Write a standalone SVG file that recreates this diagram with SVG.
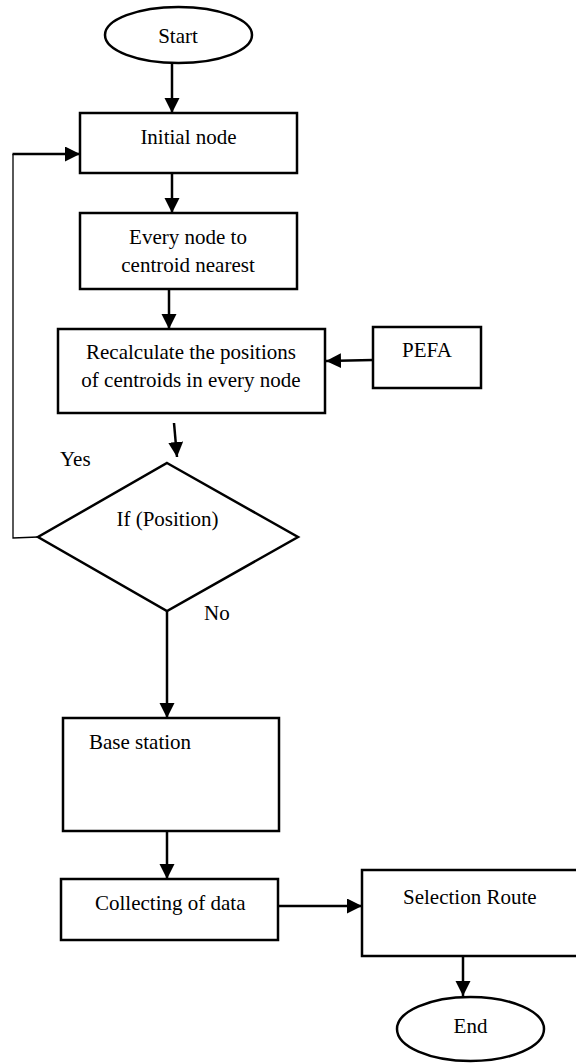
<svg xmlns="http://www.w3.org/2000/svg" width="576" height="1063" viewBox="0 0 576 1063">
<defs>
<marker id="ah" markerUnits="userSpaceOnUse" markerWidth="16" markerHeight="16" refX="15" refY="7.5" orient="auto">
<path d="M0,0 L15,7.5 L0,15 z" fill="#000"/>
</marker>
<style>
.shape{fill:#fff;stroke:#000;stroke-width:2.5}
.t{font-family:"Liberation Serif","Times New Roman",serif;font-size:21px;fill:#000}
.c{text-anchor:middle}
.ln{fill:none;stroke:#000;stroke-width:2.5}
.thin{fill:none;stroke:#000;stroke-width:1.3}
</style>
</defs>
<rect width="576" height="1063" fill="#fff"/>
<g id="connectors">
<line class="ln" x1="172" y1="63" x2="172" y2="113" marker-end="url(#ah)"/>
<line class="ln" x1="172" y1="173" x2="172" y2="213" marker-end="url(#ah)"/>
<line class="ln" x1="169" y1="289" x2="169" y2="329" marker-end="url(#ah)"/>
<line class="ln" x1="373" y1="360" x2="326" y2="361" marker-end="url(#ah)"/>
<line class="ln" x1="174" y1="423" x2="177" y2="457" marker-end="url(#ah)"/>
<line class="ln" x1="167" y1="611" x2="167" y2="718" marker-end="url(#ah)"/>
<polyline class="thin" points="38,537 13,538 13,154"/>
<line class="ln" x1="12.5" y1="154" x2="80" y2="154" stroke-width="2" marker-end="url(#ah)"/>
<line class="ln" x1="167" y1="831" x2="167" y2="879" marker-end="url(#ah)"/>
<line class="ln" x1="274" y1="906" x2="362" y2="906" marker-end="url(#ah)"/>
<line class="ln" x1="463" y1="956" x2="463" y2="996" marker-end="url(#ah)"/>
</g>
<g id="start">
<ellipse class="shape" cx="178.5" cy="35" rx="73.5" ry="28"/>
<text class="t c" x="178" y="43">Start</text>
</g>
<g id="initial">
<rect class="shape" x="80" y="113" width="217" height="60"/>
<text class="t c" x="188.5" y="144">Initial node</text>
</g>
<g id="every">
<rect class="shape" x="80" y="213" width="217" height="76"/>
<text class="t c" x="188" y="244">Every node to</text>
<text class="t c" x="188" y="272">centroid nearest</text>
</g>
<g id="recalc">
<rect class="shape" x="58" y="329" width="267" height="84"/>
<text class="t c" x="191" y="359">Recalculate the positions</text>
<text class="t c" x="191" y="387">of centroids in every node</text>
</g>
<g id="pefa">
<rect class="shape" x="373" y="327" width="108" height="61"/>
<text class="t c" x="427" y="357">PEFA</text>
</g>
<g id="decision">
<polygon class="shape" points="167,463 298,537 167,611 38,537"/>
<text class="t c" x="167.5" y="526">If (Position)</text>
<text class="t" x="60" y="466">Yes</text>
<text class="t" x="204" y="620">No</text>
</g>
<g id="base">
<rect class="shape" x="63" y="718" width="216" height="113"/>
<text class="t" x="89" y="749">Base station</text>
</g>
<g id="collect">
<rect class="shape" x="61" y="879" width="217" height="61"/>
<text class="t" x="95" y="910">Collecting of data</text>
</g>
<g id="selection">
<rect class="shape" x="362" y="870" width="220" height="86"/>
<text class="t" x="403" y="904">Selection Route</text>
</g>
<g id="end">
<ellipse class="shape" cx="470.5" cy="1029" rx="73.5" ry="32"/>
<text class="t c" x="470.5" y="1033">End</text>
</g>
</svg>
